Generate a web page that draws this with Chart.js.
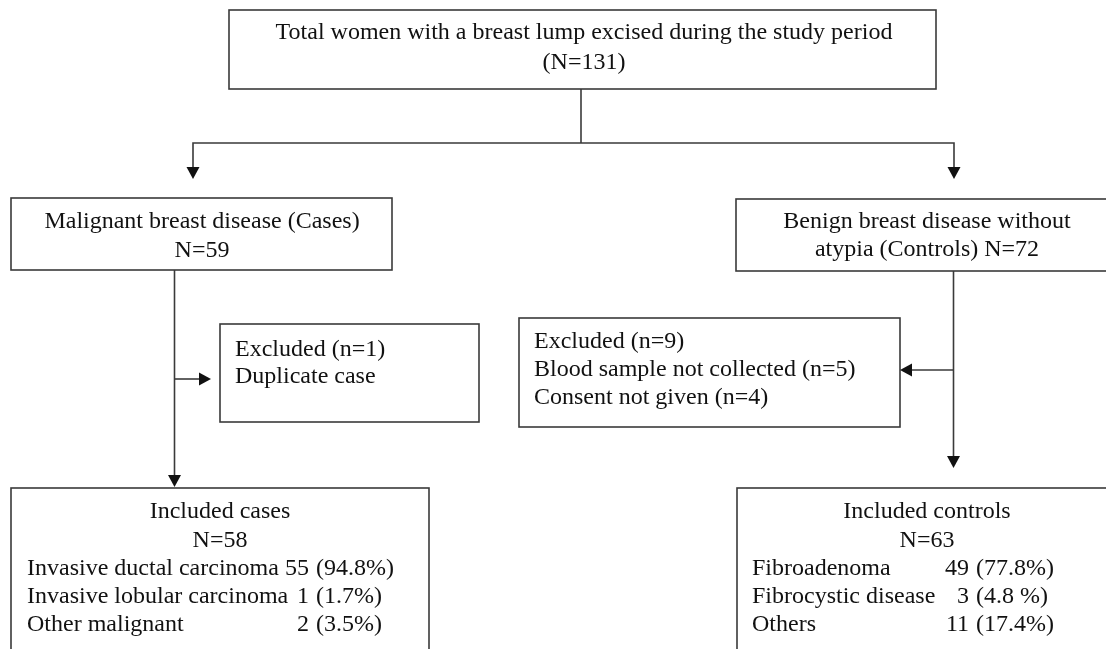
<!DOCTYPE html>
<html>
<head>
<meta charset="utf-8">
<script src="https://cdn.jsdelivr.net/npm/chart.js@4"></script>
<style>
html,body{margin:0;padding:0;background:#fff;}
#wrap{width:1106px;height:649px;}
</style>
</head>
<body>
<div id="wrap"><canvas id="c" width="1106" height="649"></canvas></div>
<script>
// ---- data ----
const totalLabel = "Total women with a breast lump excised during the study period";
const totalN = 131;
const casesLabel = "Malignant breast disease (Cases)";
const casesN = 59;
const controlsLabel = ["Benign breast disease without", "atypia (Controls)"];
const controlsN = 72;
const excludedCasesN = 1;
const excludedCasesReasons = ["Duplicate case"];
const excludedControlsN = 9;
const excludedControlsReasons = ["Blood sample not collected", "Consent not given"];
const excludedControlsCounts = [5, 4];
const includedCasesN = 58;
const caseTypes = ["Invasive ductal carcinoma", "Invasive lobular carcinoma", "Other malignant"];
const caseCounts = [55, 1, 2];
const casePcts = ["94.8%", "1.7%", "3.5%"];
const includedControlsN = 63;
const controlTypes = ["Fibroadenoma", "Fibrocystic disease", "Others"];
const controlCounts = [49, 3, 11];
const controlPcts = ["77.8%", "4.8 %", "17.4%"];

// ---- layout ----
const INK = '#111';
const LINE = '#3a3a3a';
const FONT = '24px "Liberation Serif"';

const boxes = {
  total: {x0: 229, y0: 10,  x1: 936,  y1: 89},
  cases: {x0: 11,  y0: 198, x1: 392,  y1: 270},
  ctrls: {x0: 736, y0: 199, x1: 1120, y1: 271},
  exC:   {x0: 220, y0: 324, x1: 479,  y1: 422},
  exK:   {x0: 519, y0: 318, x1: 900,  y1: 427},
  inC:   {x0: 11,  y0: 488, x1: 429,  y1: 670},
  inK:   {x0: 737, y0: 488, x1: 1120, y1: 670}
};

const flow = {
  id: 'flow',
  afterDatasetsDraw(chart) {
    const ctx = chart.ctx;
    const X = v => chart.scales.x.getPixelForValue(v);
    const Y = v => chart.scales.y.getPixelForValue(v);
    ctx.save();
    ctx.strokeStyle = LINE;
    ctx.lineWidth = 1.6;
    Object.values(boxes).forEach(b => {
      ctx.strokeRect(X(b.x0), Y(b.y0), X(b.x1) - X(b.x0), Y(b.y1) - Y(b.y0));
    });
    function poly(pts) {
      ctx.beginPath();
      pts.forEach((p, i) => i ? ctx.lineTo(X(p[0]), Y(p[1])) : ctx.moveTo(X(p[0]), Y(p[1])));
      ctx.stroke();
    }
    function head(tx, ty, dir) {
      ctx.fillStyle = '#111';
      ctx.beginPath();
      const s = 12, h = 6.5;
      if (dir === 'down') { ctx.moveTo(X(tx), Y(ty)); ctx.lineTo(X(tx - h), Y(ty - s)); ctx.lineTo(X(tx + h), Y(ty - s)); }
      if (dir === 'right') { ctx.moveTo(X(tx), Y(ty)); ctx.lineTo(X(tx - s), Y(ty - h)); ctx.lineTo(X(tx - s), Y(ty + h)); }
      if (dir === 'left') { ctx.moveTo(X(tx), Y(ty)); ctx.lineTo(X(tx + s), Y(ty - h)); ctx.lineTo(X(tx + s), Y(ty + h)); }
      ctx.closePath(); ctx.fill();
    }
    poly([[581, 89], [581, 143]]);
    poly([[193, 170], [193, 143], [954, 143], [954, 170]]);
    head(193, 179, 'down'); head(954, 179, 'down');
    poly([[174.5, 270], [174.5, 478]]); head(174.5, 487, 'down');
    poly([[174.5, 379], [202, 379]]); head(211, 379, 'right');
    poly([[953.5, 271], [953.5, 460]]); head(953.5, 468, 'down');
    poly([[953.5, 370], [909, 370]]); head(900, 370, 'left');

    ctx.fillStyle = INK;
    ctx.font = FONT;
    ctx.textBaseline = 'alphabetic';
    function t(s, x, y, align) { ctx.textAlign = align || 'left'; ctx.fillText(s, X(x), Y(y)); }
    t(totalLabel, 584, 39, 'center');
    t('(N=' + totalN + ')', 584, 69, 'center');
    t(casesLabel, 202, 228, 'center');
    t('N=' + casesN, 202, 257, 'center');
    t(controlsLabel[0], 927, 228, 'center');
    t(controlsLabel[1] + ' N=' + controlsN, 927, 256, 'center');
    t('Excluded (n=' + excludedCasesN + ')', 235, 356);
    excludedCasesReasons.forEach((r, i) => t(r, 235, 383 + i * 28));
    t('Excluded (n=' + excludedControlsN + ')', 534, 348);
    excludedControlsReasons.forEach((r, i) => t(r + ' (n=' + excludedControlsCounts[i] + ')', 534, 376 + i * 28));
    t('Included cases', 220, 518, 'center');
    t('N=' + includedCasesN, 220, 547, 'center');
    caseTypes.forEach((r, i) => {
      const y = 575 + i * 28;
      t(r, 27, y);
      t(String(caseCounts[i]), 309, y, 'right');
      t('(' + casePcts[i] + ')', 316, y);
    });
    t('Included controls', 927, 518, 'center');
    t('N=' + includedControlsN, 927, 547, 'center');
    controlTypes.forEach((r, i) => {
      const y = 575 + i * 28;
      t(r, 752, y);
      t(String(controlCounts[i]), 969, y, 'right');
      t('(' + controlPcts[i] + ')', 976, y);
    });
    ctx.restore();
  }
};

function build() {
  new Chart(document.getElementById('c'), {
    type: 'scatter',
    data: { datasets: [{ data: [], pointRadius: 0 }] },
    options: {
      responsive: false,
      animation: false,
      layout: { padding: 0 },
      plugins: { legend: { display: false }, tooltip: { enabled: false } },
      scales: {
        x: { type: 'linear', min: 0, max: 1106, display: false },
        y: { type: 'linear', min: 0, max: 649, reverse: true, display: false }
      }
    },
    plugins: [flow]
  });
}
document.fonts.load(FONT).then(build, build);
</script>
</body>
</html>
